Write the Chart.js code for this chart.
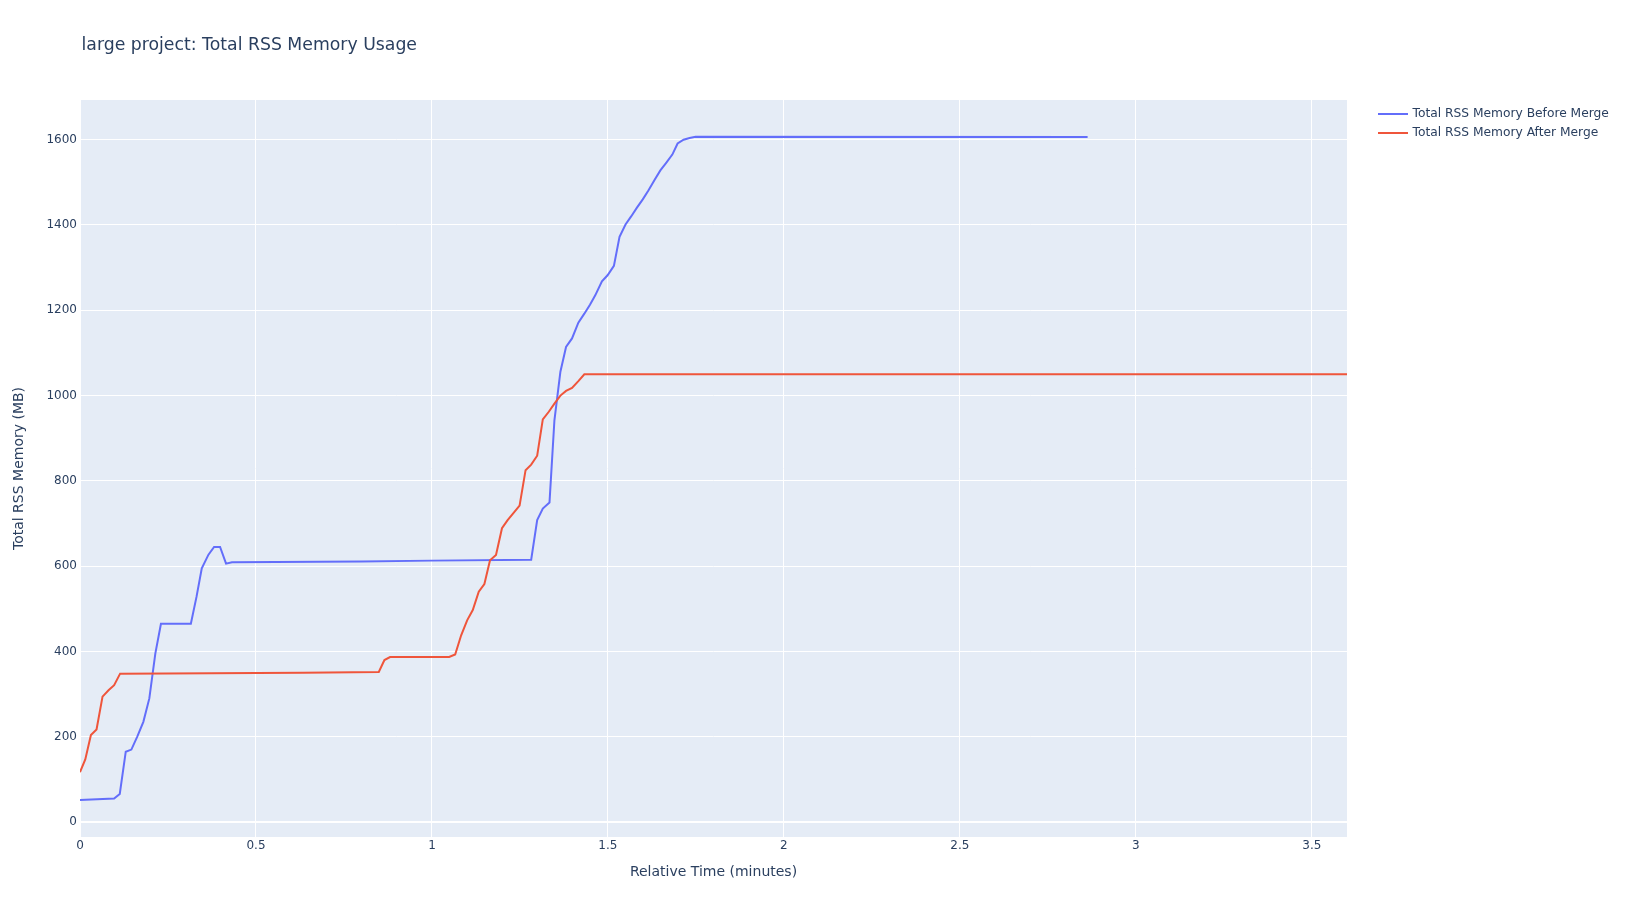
<!DOCTYPE html>
<html>
<head>
<meta charset="utf-8">
<script src="https://cdn.jsdelivr.net/npm/chart.js@4.4.1/dist/chart.umd.min.js"></script>
<style>
  html, body { margin: 0; padding: 0; background: #ffffff; }
  #wrap { width: 1625px; height: 917px; position: relative; }
  canvas { display: block; }
</style>
</head>
<body>
<div id="wrap"><canvas id="c" width="1625" height="917"></canvas></div>
<script>
// ---- data ----
const chartTitle = "large project: Total RSS Memory Usage";
const xAxisTitle = "Relative Time (minutes)";
const yAxisTitle = "Total RSS Memory (MB)";
const seriesNames = ["Total RSS Memory Before Merge", "Total RSS Memory After Merge"];

const beforeTime = [0, 0.097, 0.113, 0.130, 0.146, 0.163, 0.180, 0.197, 0.214, 0.230, 0.315, 0.331, 0.346, 0.365, 0.381, 0.398, 0.415, 0.432, 0.800, 1.000, 1.282, 1.299, 1.315, 1.334, 1.348, 1.365, 1.381, 1.398, 1.416, 1.433, 1.449, 1.464, 1.483, 1.499, 1.517, 1.533, 1.550, 1.566, 1.582, 1.599, 1.615, 1.632, 1.649, 1.665, 1.683, 1.698, 1.715, 1.732, 1.749, 2.863];
const beforeMem  = [52, 55, 66, 165, 170, 201, 235, 290, 395, 465, 465, 528, 595, 627, 645, 645, 606, 609, 611, 613, 615, 708, 735, 749, 942, 1056, 1114, 1134, 1171, 1192, 1213, 1235, 1268, 1282, 1304, 1372, 1401, 1420, 1440, 1460, 1481, 1505, 1528, 1545, 1565, 1591, 1600, 1604, 1607, 1606];

const afterTime = [0, 0.015, 0.031, 0.047, 0.064, 0.081, 0.097, 0.114, 0.633, 0.849, 0.865, 0.881, 1.049, 1.066, 1.083, 1.100, 1.116, 1.133, 1.149, 1.165, 1.182, 1.199, 1.215, 1.232, 1.249, 1.266, 1.282, 1.299, 1.315, 1.332, 1.348, 1.365, 1.381, 1.398, 1.416, 1.433, 3.6];
const afterMem  = [117, 147, 204, 217, 294, 309, 321, 348, 350, 352, 380, 387, 387, 393, 438, 473, 497, 540, 558, 614, 626, 689, 708, 725, 742, 825, 838, 859, 944, 962, 981, 1000, 1011, 1018, 1034, 1050, 1050];

const xTickValues = [0, 0.5, 1, 1.5, 2, 2.5, 3, 3.5];
const yTickValues = [0, 200, 400, 600, 800, 1000, 1200, 1400, 1600];
const xRange = [0, 3.6];
const yRange = [-35, 1693];

// ---- styling ----
const FONT = "'DejaVu Sans', Verdana, sans-serif";
const TXT = "#2a3f5f";
const colors = ["#636efa", "#EF553B"];

function toPoints(xs, ys) { return xs.map((x, i) => ({ x: x, y: ys[i] })); }

const bgPlugin = {
  id: 'plotBg',
  beforeDraw(chart) {
    const { ctx, chartArea: a } = chart;
    ctx.save();
    ctx.fillStyle = '#ffffff';
    ctx.fillRect(0, 0, chart.width, chart.height);
    ctx.fillStyle = '#E5ECF6';
    ctx.fillRect(a.left, a.top, a.right - a.left, a.bottom - a.top);
    ctx.restore();
  },
  afterDraw(chart) {
    const { ctx, chartArea: a } = chart;
    ctx.save();
    // title
    ctx.font = "17.3px " + FONT;
    ctx.fillStyle = TXT;
    ctx.textAlign = 'left';
    ctx.textBaseline = 'alphabetic';
    ctx.fillText(chartTitle, 81.5, 49.5);
    // legend
    const lx = a.right + 31;
    const ys = [114, 133];
    ctx.font = "12.25px " + FONT;
    ctx.textBaseline = 'middle';
    seriesNames.forEach((name, i) => {
      ctx.strokeStyle = colors[i];
      ctx.lineWidth = 2;
      ctx.beginPath();
      ctx.moveTo(lx, ys[i]);
      ctx.lineTo(lx + 30, ys[i]);
      ctx.stroke();
      ctx.fillStyle = TXT;
      ctx.fillText(name, lx + 34.5, ys[i]);
    });
    ctx.restore();
  }
};

new Chart(document.getElementById('c'), {
  type: 'line',
  data: {
    datasets: [
      {
        label: seriesNames[0],
        data: toPoints(beforeTime, beforeMem),
        borderColor: colors[0],
        backgroundColor: colors[0],
        borderWidth: 2,
        pointRadius: 0,
        tension: 0,
        order: 1
      },
      {
        label: seriesNames[1],
        data: toPoints(afterTime, afterMem),
        borderColor: colors[1],
        backgroundColor: colors[1],
        borderWidth: 2,
        pointRadius: 0,
        tension: 0,
        order: 0
      }
    ]
  },
  options: {
    responsive: false,
    animation: false,
    devicePixelRatio: 1,
    layout: { padding: { left: 0, top: 100, right: 278, bottom: 0 } },
    plugins: {
      legend: { display: false },
      title: { display: false },
      tooltip: { enabled: false }
    },
    scales: {
      x: {
        type: 'linear',
        min: xRange[0],
        max: xRange[1],
        afterFit(s) { s.height = 80; },
        afterBuildTicks(s) { s.ticks = xTickValues.map(v => ({ value: v })); },
        ticks: {
          padding: 2,
          maxRotation: 0,
          autoSkip: false,
          color: TXT,
          font: { family: FONT, size: 12 },
          callback: v => String(v)
        },
        grid: {
          color: '#ffffff',
          lineWidth: c => (c.tick && c.tick.value === 0) ? 2 : 1,
          drawTicks: false
        },
        border: { display: false },
        title: {
          display: true,
          text: xAxisTitle,
          color: TXT,
          font: { family: FONT, size: 14 },
          padding: { top: 0, bottom: 36 }
        }
      },
      y: {
        type: 'linear',
        min: yRange[0],
        max: yRange[1],
        afterFit(s) { s.width = 80; },
        afterBuildTicks(s) { s.ticks = yTickValues.map(v => ({ value: v })); },
        ticks: {
          padding: 3,
          autoSkip: false,
          color: TXT,
          font: { family: FONT, size: 12 },
          callback: v => String(v)
        },
        grid: {
          color: '#ffffff',
          lineWidth: c => (c.tick && c.tick.value === 0) ? 2 : 1,
          drawTicks: false
        },
        border: { display: false },
        title: {
          display: true,
          text: yAxisTitle,
          color: TXT,
          font: { family: FONT, size: 14 },
          padding: { top: 11, bottom: 0 }
        }
      }
    }
  },
  plugins: [bgPlugin]
});
</script>
</body>
</html>
